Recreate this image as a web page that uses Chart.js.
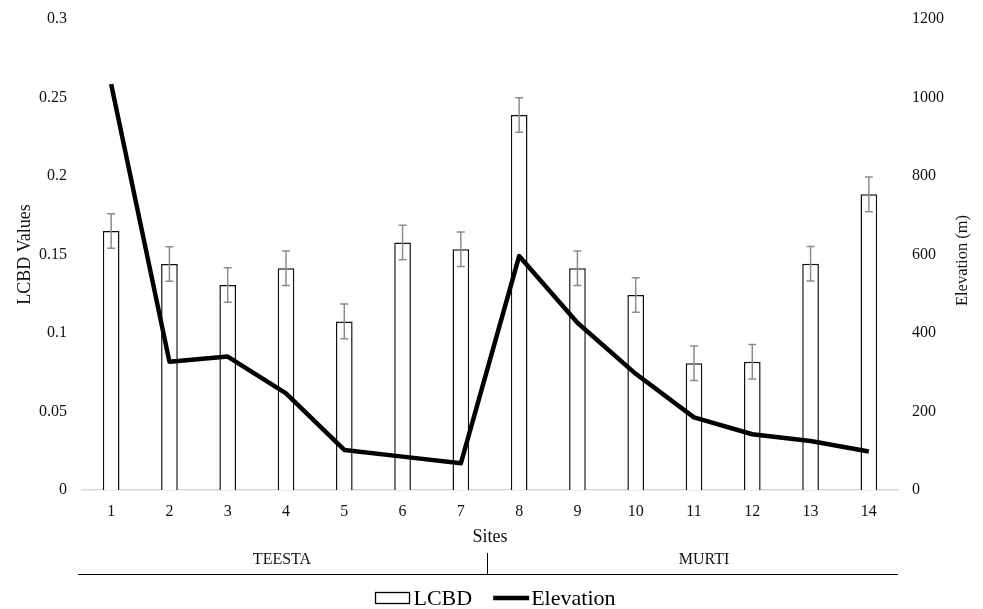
<!DOCTYPE html>
<html>
<head>
<meta charset="utf-8">
<script src="https://cdn.jsdelivr.net/npm/chart.js@4.4.1/dist/chart.umd.min.js"></script>
<style>
  html, body { margin: 0; padding: 0; background: #fff; }
</style>
</head>
<body>
<canvas id="myChart" width="983" height="609"></canvas>
<script>
// data
const sites = ['1', '2', '3', '4', '5', '6', '7', '8', '9', '10', '11', '12', '13', '14'];
const lcbd = [0.165, 0.144, 0.1306, 0.1412, 0.1074, 0.1577, 0.1533, 0.2389, 0.1412, 0.1242, 0.0807, 0.0817, 0.1441, 0.1883];
const lcbdError = [0.011, 0.011, 0.011, 0.011, 0.011, 0.011, 0.011, 0.011, 0.011, 0.011, 0.011, 0.011, 0.011, 0.011];
const elevation = [1034, 327, 340, 246, 102, 85, 68, 596, 426, 296, 185, 142, 125, 98];
const groupNames = ['TEESTA', 'MURTI'];
const groupSizes = [7, 7];
const lcbdTicks = [0, 0.05, 0.1, 0.15, 0.2, 0.25, 0.3];
const elevationTicks = [0, 200, 400, 600, 800, 1000, 1200];

const serif = "'Liberation Serif', 'Times New Roman', serif";
Chart.defaults.font.family = serif;
Chart.defaults.color = '#111';

// grey error bars, drawn right after the bars so the line stays on top
const errorBars = {
    id: 'errorBars',
    afterDatasetDraw(chart, args) {
        if (chart.data.datasets[args.index].label !== 'LCBD') return;
        const ctx = chart.ctx;
        const y = chart.scales.y;
        ctx.save();
        ctx.strokeStyle = '#8c8c8c';
        ctx.lineWidth = 1.5;
        args.meta.data.forEach((bar, i) => {
            const top = y.getPixelForValue(lcbd[i] + lcbdError[i]);
            const bottom = y.getPixelForValue(lcbd[i] - lcbdError[i]);
            ctx.beginPath();
            ctx.moveTo(bar.x, top);
            ctx.lineTo(bar.x, bottom);
            ctx.moveTo(bar.x - 4, top);
            ctx.lineTo(bar.x + 4, top);
            ctx.moveTo(bar.x - 4, bottom);
            ctx.lineTo(bar.x + 4, bottom);
            ctx.stroke();
        });
        ctx.restore();
    }
};

// river groups under the site labels, right axis title, legend
const extras = {
    id: 'extras',
    afterDraw(chart) {
        const ctx = chart.ctx;
        const x = chart.scales.x;
        const area = chart.chartArea;
        const base = area.bottom;
        const half = (x.getPixelForValue(1) - x.getPixelForValue(0)) / 2;

        ctx.save();
        ctx.fillStyle = '#111';
        ctx.strokeStyle = '#000';
        ctx.lineWidth = 1;

        // group line and labels
        ctx.beginPath();
        ctx.moveTo(area.left - 4, base + 84.5);
        ctx.lineTo(area.right, base + 84.5);
        ctx.stroke();
        ctx.font = '16px ' + serif;
        ctx.textAlign = 'center';
        ctx.textBaseline = 'middle';
        let start = 0;
        groupNames.forEach((name, g) => {
            const end = start + groupSizes[g] - 1;
            const left = x.getPixelForValue(start) - half;
            const right = x.getPixelForValue(end) + half;
            ctx.fillText(name, (left + right) / 2 + (g === 0 ? -4 : 10), base + 70);
            if (g < groupNames.length - 1) {
                ctx.beginPath();
                ctx.moveTo(Math.round(right - 3) + 0.5, base + 63);
                ctx.lineTo(Math.round(right - 3) + 0.5, base + 84.5);
                ctx.stroke();
            }
            start = end + 1;
        });

        // right axis title, reading bottom to top
        ctx.save();
        ctx.translate(963, (area.top + area.bottom) / 2 + 6);
        ctx.rotate(-Math.PI / 2);
        ctx.font = '16.5px ' + serif;
        ctx.fillText('Elevation (m)', 0, 0);
        ctx.restore();

        // legend
        ctx.font = '22px ' + serif;
        ctx.textAlign = 'left';
        const sets = chart.data.datasets;
        const items = [sets[1], sets[0]];
        const widths = items.map(d => 34 + 4 + ctx.measureText(d.label).width);
        const total = widths[0] + 21 + widths[1];
        let lx = chart.width / 2 - total / 2 + 4;
        const ly = base + 108;
        items.forEach((d, i) => {
            if (d.type === 'bar') {
                ctx.fillStyle = '#fff';
                ctx.fillRect(lx, ly - 5.5, 34, 11);
                ctx.lineWidth = 1.3;
                ctx.strokeStyle = '#000';
                ctx.strokeRect(lx, ly - 5.5, 34, 11);
            } else {
                ctx.lineWidth = 4.5;
                ctx.strokeStyle = '#000';
                ctx.beginPath();
                ctx.moveTo(lx, ly);
                ctx.lineTo(lx + 36, ly);
                ctx.stroke();
            }
            ctx.fillStyle = '#000';
            ctx.fillText(d.label, lx + 38, ly + 1);
            lx += widths[i] + 21;
        });
        ctx.restore();
    }
};

const loadChart = () => {
    const ctx = document.getElementById('myChart').getContext('2d');
    new Chart(ctx, {
        data: {
            labels: sites,
            datasets: [{
                type: 'line',
                label: 'Elevation',
                data: elevation,
                yAxisID: 'y1',
                borderColor: '#000',
                borderWidth: 4.5,
                borderJoinStyle: 'round',
                pointRadius: 0,
                tension: 0,
                order: 0
            }, {
                type: 'bar',
                label: 'LCBD',
                data: lcbd,
                yAxisID: 'y',
                backgroundColor: '#fff',
                borderColor: '#111',
                borderWidth: 1.5,
                categoryPercentage: 1,
                barPercentage: 0.286,
                order: 1
            }]
        },
        options: {
            responsive: false,
            animation: false,
            devicePixelRatio: 1,
            layout: { padding: { top: 19, left: 0, right: 0, bottom: 0 } },
            plugins: {
                legend: { display: false },
                tooltip: { enabled: false }
            },
            scales: {
                x: {
                    grid: { display: false, drawTicks: false },
                    border: { display: true, color: '#d9d9d9', width: 1.5 },
                    ticks: { font: { size: 16 }, padding: 12, maxRotation: 0 },
                    title: { display: true, text: 'Sites', font: { size: 18 }, padding: { top: 0, bottom: 61 } },
                    afterFit: s => { s.height = 119; }
                },
                y: {
                    position: 'left',
                    min: 0,
                    max: 0.3,
                    grid: { display: false, drawTicks: false },
                    border: { display: false },
                    ticks: { font: { size: 16 }, padding: 15, callback: v => String(v) },
                    afterBuildTicks: s => { s.ticks = lcbdTicks.map(v => ({ value: v })); },
                    title: { display: true, text: 'LCBD Values', font: { size: 18 }, padding: { top: 14, bottom: 0 } },
                    afterFit: s => { s.width = 82; s.paddingTop = 0; }
                },
                y1: {
                    position: 'right',
                    min: 0,
                    max: 1200,
                    grid: { display: false, drawTicks: false },
                    border: { display: false },
                    ticks: { font: { size: 16 }, padding: 14, callback: v => String(v) },
                    afterBuildTicks: s => { s.ticks = elevationTicks.map(v => ({ value: v })); },
                    afterFit: s => { s.width = 85; s.paddingTop = 0; }
                }
            }
        },
        plugins: [errorBars, extras]
    });
};

loadChart();
</script>
</body>
</html>
